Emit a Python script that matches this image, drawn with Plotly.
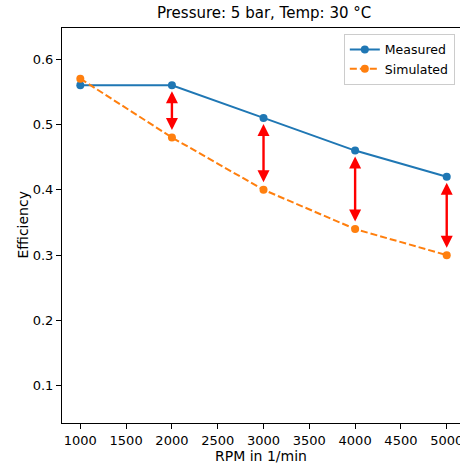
import plotly.graph_objects as go

rpm = [1000, 2000, 3000, 4000, 5000]
measured = [0.56, 0.56, 0.51, 0.46, 0.42]
simulated = [0.57, 0.48, 0.40, 0.34, 0.30]
arrow_rpm = [2000, 3000, 4000, 5000]
x_ticks = [1000, 1500, 2000, 2500, 3000, 3500, 4000, 4500, 5000]
y_ticks = [0.1, 0.2, 0.3, 0.4, 0.5, 0.6]

FONT = "DejaVu Sans"
fig = go.Figure()
fig.add_trace(go.Scatter(x=rpm, y=measured, mode="lines+markers", name="Measured",
                         line=dict(color="#1f77b4", width=2),
                         marker=dict(color="#1f77b4", size=8)))
fig.add_trace(go.Scatter(x=rpm, y=simulated, mode="lines+markers", name="Simulated",
                         line=dict(color="#ff7f0e", width=2, dash="7px,3px"),
                         marker=dict(color="#ff7f0e", size=8)))

for xv in arrow_rpm:
    i = rpm.index(xv)
    fig.add_annotation(x=xv, y=measured[i], ax=xv, ay=simulated[i],
                       xref="x", yref="y", axref="x", ayref="y",
                       text="", showarrow=True, arrowside="end+start",
                       arrowhead=2, arrowsize=1.0, arrowwidth=2.4,
                       arrowcolor="red", standoff=6, startstandoff=6)

fig.add_annotation(text="Pressure: 5 bar, Temp: 30 °C", xref="paper", yref="paper",
                   x=0.5075, y=1.0, yshift=4, xanchor="center", yanchor="bottom",
                   showarrow=False, font=dict(family=FONT, size=15, color="black"))

fig.add_annotation(text="Efficiency", xref="paper", yref="paper",
                   x=0, y=0.5, xshift=-40, xanchor="center", yanchor="middle",
                   textangle=-90, showarrow=False,
                   font=dict(family=FONT, size=14, color="black"))

fig.update_layout(
    width=460, height=465,
    margin=dict(l=62, r=0, t=28, b=42, autoexpand=False),
    paper_bgcolor="white", plot_bgcolor="white",
    font=dict(family=FONT, size=13, color="black"),
    showlegend=True,
    legend=dict(x=0.987, y=0.985, xanchor="right", yanchor="top",
                bordercolor="#cccccc", borderwidth=1, bgcolor="rgba(255,255,255,0.8)",
                font=dict(family=FONT, size=12.5), itemwidth=30,
                tracegroupgap=0),
)
fig.update_xaxes(range=[800, 5145], tickvals=x_ticks, ticktext=[str(v) for v in x_ticks],
                 showgrid=False, zeroline=False, showline=True, linecolor="black",
                 linewidth=1, mirror=True, ticks="outside", ticklen=5, tickcolor="black",
                 ticklabeloverflow="allow", automargin=False,
                 title=dict(text="RPM in 1/min", font=dict(family=FONT, size=14), standoff=4),
                 tickfont=dict(family=FONT, size=13))
fig.update_yaxes(range=[0.0433, 0.6475], tickvals=y_ticks, ticktext=[f"{v:.1f}" for v in y_ticks],
                 showgrid=False, zeroline=False, showline=True, linecolor="black",
                 linewidth=1, mirror=False, ticks="outside", ticklen=5, tickcolor="black",
                 automargin=False,
                 tickfont=dict(family=FONT, size=13))

fig.write_html("out.html", config={"displayModeBar": False},
               post_script=("document.body.style.margin='0';"
                            "document.body.style.overflow='hidden';"
                            "document.documentElement.style.overflow='hidden';"))
